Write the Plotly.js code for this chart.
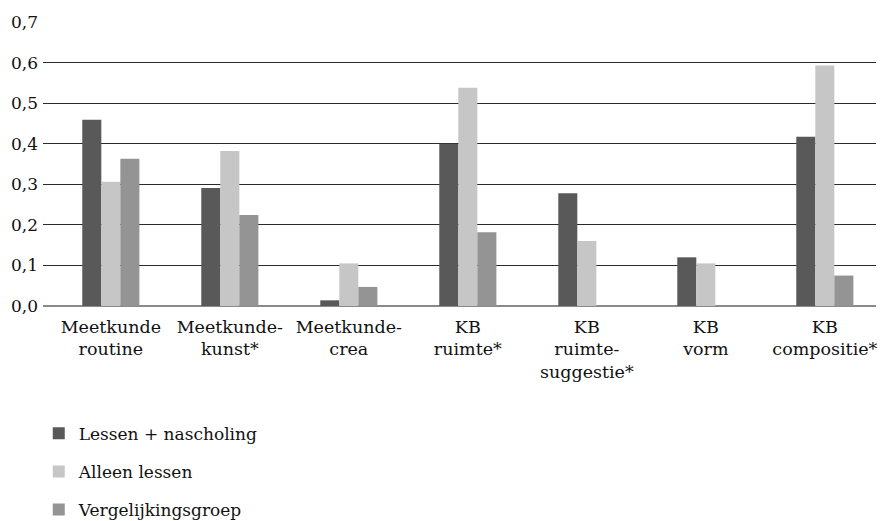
<!DOCTYPE html>
<html>
<head>
<meta charset="utf-8">
<script src="https://cdn.plot.ly/plotly-3.0.1.min.js"></script>
<style>html,body{margin:0;padding:0;background:#fff;}#chart{width:881px;height:521px;}</style>
</head>
<body>
<div id="chart"></div>
<script>
const categories = ["Meetkunde<br>routine", "Meetkunde-<br>kunst*", "Meetkunde-<br>crea", "KB<br>ruimte*", "KB<br>ruimte-<br>suggestie*", "KB<br>vorm", "KB<br>compositie*"];
const seriesNames = ["Lessen + nascholing", "Alleen lessen", "Vergelijkingsgroep"];
const lessenNascholing = [0.459, 0.291, 0.014, 0.400, 0.278, 0.120, 0.417];
const alleenLessen = [0.306, 0.382, 0.105, 0.538, 0.160, 0.105, 0.593];
const vergelijkingsgroep = [0.363, 0.224, 0.047, 0.182, 0, 0, 0.075];
const yTicks = [0, 0.1, 0.2, 0.3, 0.4, 0.5, 0.6, 0.7];

const colors = ["#595959", "#c6c6c6", "#949494"];
const values = [lessenNascholing, alleenLessen, vergelijkingsgroep];

const traces = values.map((v, i) => ({
  type: "bar",
  x: categories.map((c, k) => k),
  y: v,
  name: seriesNames[i],
  legendgroup: "g" + i,
  marker: {color: colors[i], line: {width: 0}},
  hoverinfo: "y+name"
}));

const layout = {
  width: 881, height: 521,
  margin: {l: 43, r: 5, t: 22, b: 215, autoexpand: false},
  paper_bgcolor: "#fff", plot_bgcolor: "#fff",
  separators: ",.",
  barmode: "group",
  bargap: 0.52,
  bargroupgap: 0,
  font: {family: "DejaVu Serif", color: "#111", size: 17},
  xaxis: {
    range: [-0.57, 6.43],
    tickmode: "array",
    tickvals: categories.map((c, k) => k),
    ticktext: categories,
    showgrid: false, zeroline: false, showline: false,
    ticks: "",
    tickfont: {family: "DejaVu Serif", size: 17.5, color: "#111"},
    ticklabelstandoff: 8,
    automargin: false,
    fixedrange: true
  },
  yaxis: {
    range: [0, 0.7],
    tickmode: "array",
    tickvals: yTicks,
    tickformat: ".1f",
    showgrid: true, gridcolor: "#2a2a2a", gridwidth: 1,
    zeroline: true, zerolinecolor: "#8a8a8a", zerolinewidth: 2,
    showline: false, ticks: "",
    tickfont: {family: "DejaVu Serif", size: 17, color: "#111"},
    ticklabelstandoff: 4,
    automargin: false,
    fixedrange: true
  },
  showlegend: true,
  legend: {
    orientation: "v",
    xref: "container", yref: "container",
    x: 0.044, y: 0.202, xanchor: "left", yanchor: "top",
    font: {family: "DejaVu Serif", size: 17, color: "#111"},
    tracegroupgap: 13,
    traceorder: "grouped",
    bgcolor: "rgba(0,0,0,0)"
  }
};

Plotly.newPlot("chart", traces, layout, {displayModeBar: false, staticPlot: true});
</script>
</body>
</html>
